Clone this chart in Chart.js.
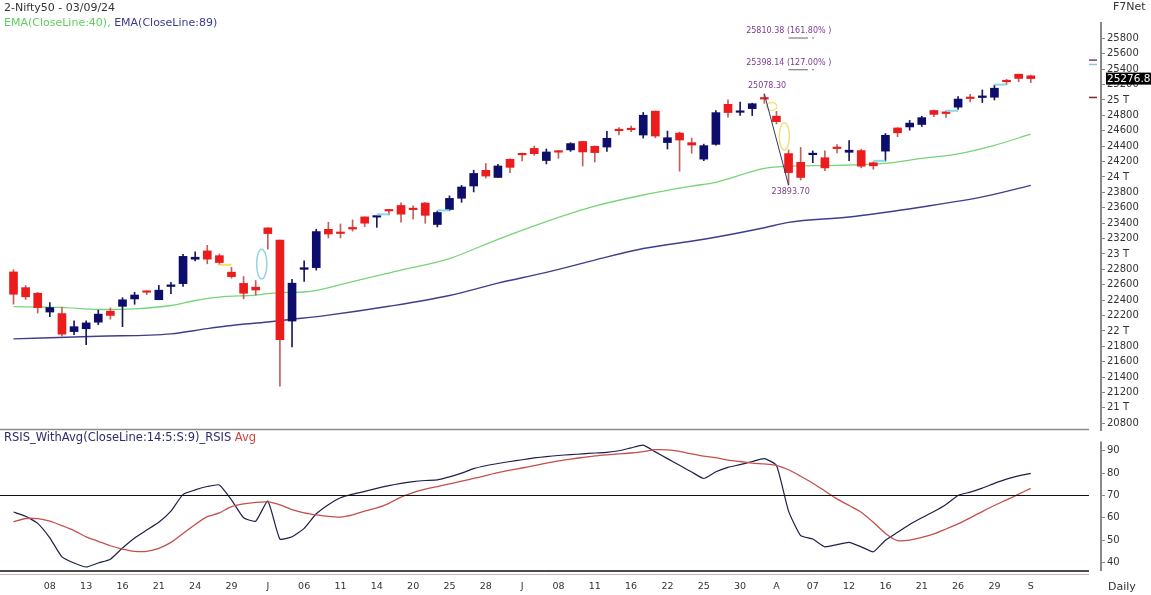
<!DOCTYPE html>
<html><head><meta charset="utf-8">
<script src="https://cdn.jsdelivr.net/npm/chart.js@4.4.1/dist/chart.umd.min.js"></script>
<style>
html,body{margin:0;padding:0;background:#fff;width:1151px;height:595px;overflow:hidden;font-family:"DejaVu Sans",Verdana,sans-serif;}
#wrap{position:relative;width:1151px;height:595px;}
#c1{position:absolute;left:0;top:0;}
#c2{position:absolute;left:0;top:430px;}
.t{position:absolute;white-space:nowrap;font-size:11px;line-height:13px;}
</style></head><body>
<div id="wrap">
<canvas id="c1" width="1151" height="432"></canvas>
<canvas id="c2" width="1151" height="165"></canvas>
<div class="t" style="left:4px;top:1px;color:#333">2-Nifty50 - 03/09/24</div>
<div class="t" style="left:4px;top:16px;"><span style="color:#5fcf5f">EMA(CloseLine:40), </span><span style="color:#3a3a8c">EMA(CloseLine:89)</span></div>
<div class="t" style="left:1113px;top:0px;color:#333">F7Net</div>
<div class="t" style="left:4px;top:431px;font-size:11.5px"><span style="color:#2b2b6b">RSIS_WithAvg(CloseLine:14:5:S:9)_RSIS </span><span style="color:#d04040">Avg</span></div>
<div class="t" style="left:1108px;top:580px;color:#333">Daily</div>
</div>
<script>
// ---- daily candles, 03 May 2024 .. 03 Sep 2024 ----
const open  = [22766,22562,22490,22245,22225,21991,22028,22113,22256,22319,22415,22513,22405,22577,22614,22931,23039,22977,22763,22617,22568,
 23338,23180,22128,22799,22822,23319,23284,23344,23481,23478,23570,23629,23590,23661,23382,23577,23723,23882,24086,
 23993,24229,24292,24370,24213,24329,24351,24460,24397,24388,24612,24616,24544,24854,24446,24569,24445,24231,24423,24943,24839,24887,
 25031,24789,24303,24190,24289,24249,24387,24320,24342,24184,24335,24636,24649,24681,24863,24845,24906,25025,25031,25035,25250,
 25334,25313];
const high  = [22795,22589,22499,22369,22308,22131,22132,22270,22298,22432,22502,22520,22591,22630,22994,23026,23111,22999,22826,22706,22654,
 23339,23180,22670,22910,23320,23412,23389,23442,23481,23490,23579,23664,23624,23667,23558,23754,23890,24087,24174,
 24164,24236,24309,24401,24363,24345,24444,24461,24403,24592,24640,24661,24838,24855,24595,24583,24504,24426,24861,25000,24972,24957,
 25078,24852,24350,24383,24338,24340,24420,24473,24360,24197,24564,24639,24734,24788,24867,24858,25044,25073,25130,25193,25268,
 25334,25322];
const low   = [22348,22409,22232,22185,21932,21950,21821,22081,22152,22055,22346,22470,22405,22483,22577,22908,22871,22859,22685,22417,22465,
 23062,21281,21792,22643,22789,23207,23207,23296,23354,23345,23505,23413,23451,23398,23350,23562,23670,23805,23986,
 23993,24056,24207,24281,24169,24241,24332,24142,24194,24331,24545,24588,24504,24508,24362,24074,24307,24211,24411,24775,24799,24797,
 24956,24687,23894,23960,24185,24080,24311,24212,24117,24100,24205,24523,24607,24655,24784,24772,24875,24974,24965,24999,25199,
 25236,25225];
const close = [22476,22443,22303,22303,21958,22055,22104,22218,22201,22404,22466,22502,22529,22598,22968,22957,22932,22888,22705,22489,22531,
 23264,21885,22620,22821,23290,23259,23265,23323,23399,23486,23558,23516,23575,23501,23538,23721,23869,24045,24011,
 24142,24124,24287,24302,24324,24321,24433,24324,24316,24502,24600,24613,24801,24531,24509,24479,24414,24406,24835,24836,24857,24951,
 25011,24718,24056,23993,24298,24117,24368,24347,24139,24144,24541,24573,24699,24770,24812,24823,25011,25018,25052,25152,25236,
 25279,25277];

// ---- moving averages read at selected bars ----
const ema40Bars = [0,4,7,10,13,15,17,20,22,24,28,32,36,40,44,48,52,56,58,62,64,68,72,75,78,81,84];
const ema40     = [22315,22305,22278,22287,22330,22395,22440,22465,22498,22505,22640,22790,22940,23190,23420,23620,23765,23880,23930,24110,24140,24150,24175,24240,24300,24410,24555];
const ema89Bars = [0,7,13,16,18,21,23,26,31,36,40,44,48,52,57,62,64,69,75,80,84];
const ema89     = [21897,21930,21962,22030,22070,22115,22150,22205,22320,22460,22620,22760,22920,23070,23190,23340,23410,23480,23610,23740,23890];

// ---- RSI panel ----
const rsi = [62.6,60.7,57.5,51,42.5,39.8,38,39.8,41.5,46.5,
 51,54.5,58,63,70.5,72.5,74,74.7,68,60,
 58.5,67.5,50.5,51.5,55.3,61.8,65.9,69,70.6,71.8,
 73.2,74.4,75.4,76.2,76.7,77,78.3,80,82,83.3,
 84.3,85.2,86,86.8,87.4,87.9,88.3,88.6,89,89.3,
 90,91.3,92.5,89.5,86.5,83.5,80.5,77.6,80.6,82.6,
 83.8,85.2,86.5,83.5,63,52,50.5,47,48,49,
 47,44.8,50,53.5,57,60,62.8,66,70,71.5,
 73.3,75.4,77.3,78.8,79.9];
const rsiAvg = [58.2,59.7,59.6,58.5,56.5,54.3,51.5,49.5,47.5,46,
 45,45,46.3,49,53,57,60.5,62.2,65,66.2,
 66.9,67.1,65.8,63.7,62.2,61.3,60.6,60.3,61.3,63,
 64.4,66.5,69.3,71.3,72.8,74,75.2,76.4,77.6,78.9,
 80.2,81.3,82.3,83.4,84.5,85.5,86.3,87,87.7,88.2,
 88.6,89,89.6,90.5,90.4,89.7,88.6,87.6,86.9,85.8,
 85.2,84.5,84.1,83.5,81.5,78.6,75.5,72,68.5,65.5,
 62.5,58,53,49.8,50,51.2,52.8,55,57.3,60,
 62.8,65.5,68,70.6,73.2];

// ---- axis ticks ----
const priceTicks = [20800,21000,21200,21400,21600,21800,22000,22200,22400,22600,22800,23000,23200,23400,23600,23800,24000,24200,24400,24600,24800,25000,25200,25400,25600,25800];
const rsiTicks = [40,50,60,70,80,90];
const xTickIdx  = [3,6,9,12,15,18,21,24,27,30,33,36,39,42,45,48,51,54,57,60,63,66,69,72,75,78,81,84];
const xTickText = ["08","13","16","21","24","29","J","06","11","14","20","25","28","J","08","11","16","22","25","30","A","07","12","16","21","26","29","S"];

// ---- annotations (values) ----
const fibLevels = [25810.38, 25398.14];
const fibText   = ["25810.38 (161.80% )", "25398.14 (127.00% )"];
const swingHigh = {bar:62, value:25078.30};
const swingLow  = {bar:64, value:23893.70};
const lastPrice = 25276.8;
const gapMarks  = [[30,31,23514,'#86dbe6'],[35,36,23566,'#86dbe6'],[71,72,24209,'#86dbe6'],[77,78,24859,'#86dbe6'],[81,82,25199,'#86dbe6'],[17,18,22859,'#f0e060']];
const ellipses  = [[20.5,22868,0.42,193,'#8fd6e2'],[62.6,24916,0.42,52,'#efe27a'],[63.65,24527,0.42,176,'#efe27a']];
const axisMarks = [[25517,'#7b3b8b'],[25460,'#86c8d8'],[25032,'#7a2a2a']];

const xMin = -1.115, xMax = 89.8;
Chart.defaults.font.family = '"DejaVu Sans", Verdana, sans-serif';
const N = open.length;
const idx = open.map((_, i) => i);
const isUp = i => close[i] >= open[i];
const noPadY = s => { s.width = 50; s.paddingTop = 0; s.paddingBottom = 0; };

const overlay1 = {
  id: 'overlay1',
  afterDraw(chart) {
    const {ctx, chartArea, scales:{x, y}} = chart;
    ctx.save();
    ctx.strokeStyle = '#8a8a8a'; ctx.lineWidth = 1.5;
    ctx.beginPath(); ctx.moveTo(0, chartArea.bottom - 0.5); ctx.lineTo(chartArea.right - 12, chartArea.bottom - 0.5); ctx.stroke();
    gapMarks.forEach(g => {
      ctx.strokeStyle = g[3]; ctx.lineWidth = 2;
      ctx.beginPath(); ctx.moveTo(x.getPixelForValue(g[0]), y.getPixelForValue(g[2])); ctx.lineTo(x.getPixelForValue(g[1]), y.getPixelForValue(g[2])); ctx.stroke();
    });
    ellipses.forEach(e => {
      const cx = x.getPixelForValue(e[0]), cy = y.getPixelForValue(e[1]);
      const rx = Math.abs(x.getPixelForValue(e[0] + e[2]) - cx), ry = Math.abs(y.getPixelForValue(e[1] + e[3]) - cy);
      ctx.strokeStyle = e[4]; ctx.lineWidth = 1.5;
      ctx.beginPath(); ctx.ellipse(cx, cy, rx, ry, 0, 0, Math.PI * 2); ctx.stroke();
    });
    ctx.strokeStyle = '#34346a'; ctx.lineWidth = 1;
    ctx.beginPath(); ctx.moveTo(x.getPixelForValue(swingHigh.bar), y.getPixelForValue(swingHigh.value));
    ctx.lineTo(x.getPixelForValue(swingLow.bar), y.getPixelForValue(swingLow.value)); ctx.stroke();
    ctx.font = '8px "DejaVu Sans", Verdana, sans-serif';
    ctx.textBaseline = 'middle'; ctx.textAlign = 'left';
    fibLevels.forEach((lv, k) => {
      const py = y.getPixelForValue(lv);
      ctx.strokeStyle = '#666'; ctx.lineWidth = 1;
      ctx.beginPath(); ctx.moveTo(x.getPixelForValue(64), py + 0.5); ctx.lineTo(x.getPixelForValue(65.6), py + 0.5); ctx.stroke();
      ctx.beginPath(); ctx.moveTo(x.getPixelForValue(65.95), py + 0.5); ctx.lineTo(x.getPixelForValue(66.1), py + 0.5); ctx.stroke();
      ctx.fillStyle = '#7b3b8b';
      ctx.fillText(fibText[k], x.getPixelForValue(60.5), py - 6.5);
    });
    ctx.fillStyle = '#7b3b8b';
    ctx.fillText('25078.30', x.getPixelForValue(60.65), y.getPixelForValue(swingHigh.value) - 8.4);
    ctx.fillText('23893.70', x.getPixelForValue(62.6), y.getPixelForValue(swingLow.value) + 6.5);
    axisMarks.forEach(m => {
      ctx.strokeStyle = m[1]; ctx.lineWidth = 1.5;
      const py = y.getPixelForValue(m[0]);
      ctx.beginPath(); ctx.moveTo(chartArea.right - 12, py); ctx.lineTo(chartArea.right - 4, py); ctx.stroke();
    });
    const ly = y.getPixelForValue(lastPrice);
    ctx.fillStyle = '#000';
    ctx.fillRect(chartArea.right + 5, ly - 6, 1151 - chartArea.right - 5, 12);
    ctx.fillStyle = '#fff';
    ctx.font = '10.5px "DejaVu Sans", Verdana, sans-serif';
    ctx.fillText(String(lastPrice), chartArea.right + 6, ly + 0.5);
    ctx.restore();
  }
};

new Chart(document.getElementById('c1'), {
  type: 'bar',
  data: { datasets: [
    { type:'line', label:'EMA89', data: ema89Bars.map((b,k)=>({x:b, y:ema89[k]})), borderColor:'#3e3e8c', borderWidth:1.4, pointRadius:0, cubicInterpolationMode:'monotone', order:4 },
    { type:'line', label:'EMA40', data: ema40Bars.map((b,k)=>({x:b, y:ema40[k]})), borderColor:'#78d478', borderWidth:1.3, pointRadius:0, cubicInterpolationMode:'monotone', order:3 },
    { type:'bar', label:'wick', data: idx.map(i=>({x:i, y:[low[i], high[i]]})), backgroundColor: idx.map(i=>isUp(i)?'#1b1b5c':'#c0605c'), barThickness:1, grouped:false, order:2 },
    { type:'bar', label:'body', data: idx.map(i=>({x:i, y:[open[i], close[i]]})), backgroundColor: idx.map(i=>isUp(i)?'#0d0d6b':'#ec1c1c'), barThickness:8, minBarLength:1.5, grouped:false, order:1 }
  ]},
  options: {
    responsive:false, animation:false, devicePixelRatio:1, events:[],
    layout:{padding:{top:23, bottom:2, left:0, right:0}},
    plugins:{legend:{display:false}, tooltip:{enabled:false}},
    scales:{
      x:{type:'linear', min:xMin, max:xMax, offset:false, display:false},
      y:{position:'right', min:20713, max:25999,
         afterFit:noPadY,
         afterBuildTicks:s=>{s.ticks=priceTicks.map(v=>({value:v}));},
         ticks:{autoSkip:false, color:'#333', font:{size:10}, padding:2,
                callback:v=> (v % 1000 === 0) ? (v/1000) + ' T' : String(v)},
         grid:{drawOnChartArea:false, drawTicks:true, tickLength:4, color:'#888'},
         border:{color:'#888', width:2}}
    }
  },
  plugins:[overlay1]
});

const overlay2 = {
  id:'overlay2',
  afterDraw(chart){
    const {ctx, chartArea, scales:{y}} = chart;
    ctx.save();
    ctx.strokeStyle = '#111'; ctx.lineWidth = 1.2;
    const p70 = Math.round(y.getPixelForValue(70)) + 0.5;
    ctx.beginPath(); ctx.moveTo(0, p70); ctx.lineTo(chartArea.right - 12, p70); ctx.stroke();
    ctx.lineWidth = 1.6;
    ctx.beginPath(); ctx.moveTo(0, chartArea.bottom); ctx.lineTo(chartArea.right - 12, chartArea.bottom); ctx.stroke();
    ctx.strokeStyle = '#c9b5b5'; ctx.lineWidth = 1;
    ctx.beginPath(); ctx.moveTo(0, chartArea.bottom + 3.5); ctx.lineTo(chartArea.right - 12, chartArea.bottom + 3.5); ctx.stroke();
    ctx.strokeStyle = '#888'; ctx.lineWidth = 2;
    ctx.beginPath(); ctx.moveTo(chartArea.right, 11.5); ctx.lineTo(chartArea.right, chartArea.bottom); ctx.stroke();
    ctx.restore();
  }
};

new Chart(document.getElementById('c2'), {
  type:'line',
  data:{ datasets:[
    { label:'Avg', data: idx.map(i=>({x:i, y:rsiAvg[i]})), borderColor:'#c4504c', borderWidth:1.3, pointRadius:0, tension:0.2 },
    { label:'RSIS', data: idx.map(i=>({x:i, y:rsi[i]})), borderColor:'#1f1f4a', borderWidth:1.2, pointRadius:0, tension:0.15 }
  ]},
  options:{
    responsive:false, animation:false, devicePixelRatio:1, events:[],
    layout:{padding:0},
    plugins:{legend:{display:false}, tooltip:{enabled:false}},
    scales:{
      x:{type:'linear', min:xMin, max:xMax, offset:false,
         afterFit:s=>{s.height=24; s.paddingLeft=0; s.paddingRight=0;},
         afterBuildTicks:s=>{s.ticks=xTickIdx.map(v=>({value:v}));},
         ticks:{autoSkip:false, maxRotation:0, color:'#333', font:{size:9.5}, padding:10,
                callback:v=>{const k=xTickIdx.indexOf(v); return k>=0 ? xTickText[k] : '';}},
         grid:{display:false, drawTicks:false}, border:{display:false}},
      y:{position:'right', min:36.2, max:99.3,
         afterFit:noPadY,
         afterBuildTicks:s=>{s.ticks=rsiTicks.map(v=>({value:v}));},
         ticks:{autoSkip:false, color:'#333', font:{size:10}, padding:2},
         grid:{drawOnChartArea:false, drawTicks:true, tickLength:4, color:'#888'},
         border:{display:false}}
    }
  },
  plugins:[overlay2]
});
</script>
</body></html>
